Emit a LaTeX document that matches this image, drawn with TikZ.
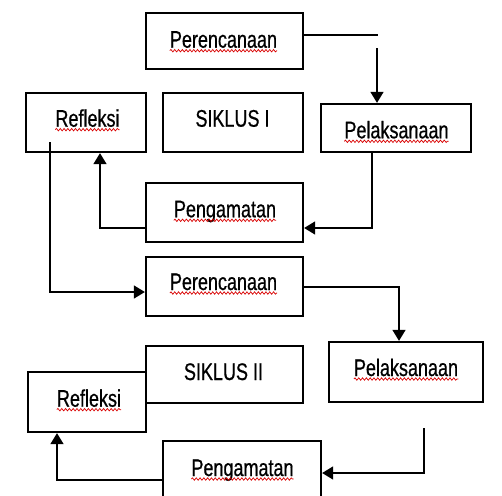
\documentclass[tikz,border=0pt]{standalone}
\usepackage{fontspec}
\setmainfont{Liberation Sans}[FakeStretch=0.75,FakeBold=0.6]
\usetikzlibrary{arrows.meta,decorations.pathmorphing}
\begin{document}
\begin{tikzpicture}[x=1pt,y=-1pt,
  box/.style={draw=black,line width=2.3pt,fill=white,inner sep=0pt,minimum width=#1},
  lbl/.style={inner sep=0pt,font=\fontsize{24pt}{26pt}\selectfont,anchor=base},
  squig/.style={draw=red!85!black,line width=0.7pt,decorate,decoration={snake,amplitude=1.2pt,segment length=3.8pt}},
  conn/.style={draw=black,line width=1.5pt},
  arr/.style={conn,-{Triangle[length=11pt,width=13pt]}}]
\useasboundingbox (0,0) rectangle (502,495);
\clip (0,0) rectangle (502,495);
% boxes
\node[box=157pt,minimum height=56pt] (P1) at (224.5,41) {};
\node[box=120pt,minimum height=59pt] (Rf1) at (86,122.5) {};
\node[box=140pt,minimum height=59pt] (S1) at (233,122.5) {};
\node[box=150pt,minimum height=48pt] (Pl1) at (396,128) {};
\node[box=157pt,minimum height=59pt] (Pg1) at (224.5,212.5) {};
\node[box=157pt,minimum height=59pt] (P2) at (224.5,286.5) {};
\node[box=157pt,minimum height=57pt] (S2) at (224.5,374.5) {};
\node[box=118pt,minimum height=60pt] (Rf2) at (87,402) {};
\node[box=154pt,minimum height=60pt] (Pl2) at (406,372) {};
\node[box=158pt,minimum height=64pt] (Pg2) at (242,473) {};
% labels
\node[lbl] (tP1) at (223.5,47.7) {Perencanaan};
\node[lbl] (tRf1) at (87.5,126.7) {Refleksi};
\node[lbl] (tS1) at (232.5,126.7) {SIKLUS I};
\node[lbl] (tPl1) at (396.5,138.3) {Pelaksanaan};
\node[lbl] (tPg1) at (225,217.3) {Pengamatan};
\node[lbl] (tP2) at (223.5,290) {Perencanaan};
\node[lbl] (tS2) at (223.5,380) {SIKLUS II};
\node[lbl] (tRf2) at (89,406.7) {Refleksi};
\node[lbl] (tPl2) at (406,376) {Pelaksanaan};
\node[lbl] (tPg2) at (242.5,476) {Pengamatan};
% spell-check squiggles
\foreach \t in {tP1,tRf1,tPl1,tPg1,tP2,tRf2,tPl2,tPg2}
  \draw[squig] ([yshift=-3pt]\t.base west) -- ([yshift=-3pt]\t.base east);
% connector coordinates
\coordinate (c1) at (378,35);
\coordinate (c2) at (377,48);
\coordinate (c3) at (372,228);
\coordinate (c4) at (100,228);
\coordinate (c5) at (50,142);
\coordinate (c6) at (50,292);
\coordinate (c7) at (399,287);
\coordinate (c8) at (424,428);
\coordinate (c9) at (424,473);
\coordinate (c10) at (57,480);
% connectors
\draw[conn] (c1 -| P1.east) -- (c1);
\draw[arr] (c2) -- (c2 |- Pl1.north);
\draw[arr] (c3 |- Pl1.south) -- (c3) -- (c3 -| Pg1.east);
\draw[arr] (c4 -| Pg1.west) -- (c4) -- (c4 |- Rf1.south);
\draw[arr] (c5) -- (c6) -- (c6 -| P2.west);
\draw[arr] (c7 -| P2.east) -- (c7) -- (c7 |- Pl2.north);
\draw[arr] (c8) -- (c9) -- (c9 -| Pg2.east);
\draw[arr] (c10 -| Pg2.west) -- (c10) -- (c10 |- Rf2.south);
\end{tikzpicture}
\end{document}
